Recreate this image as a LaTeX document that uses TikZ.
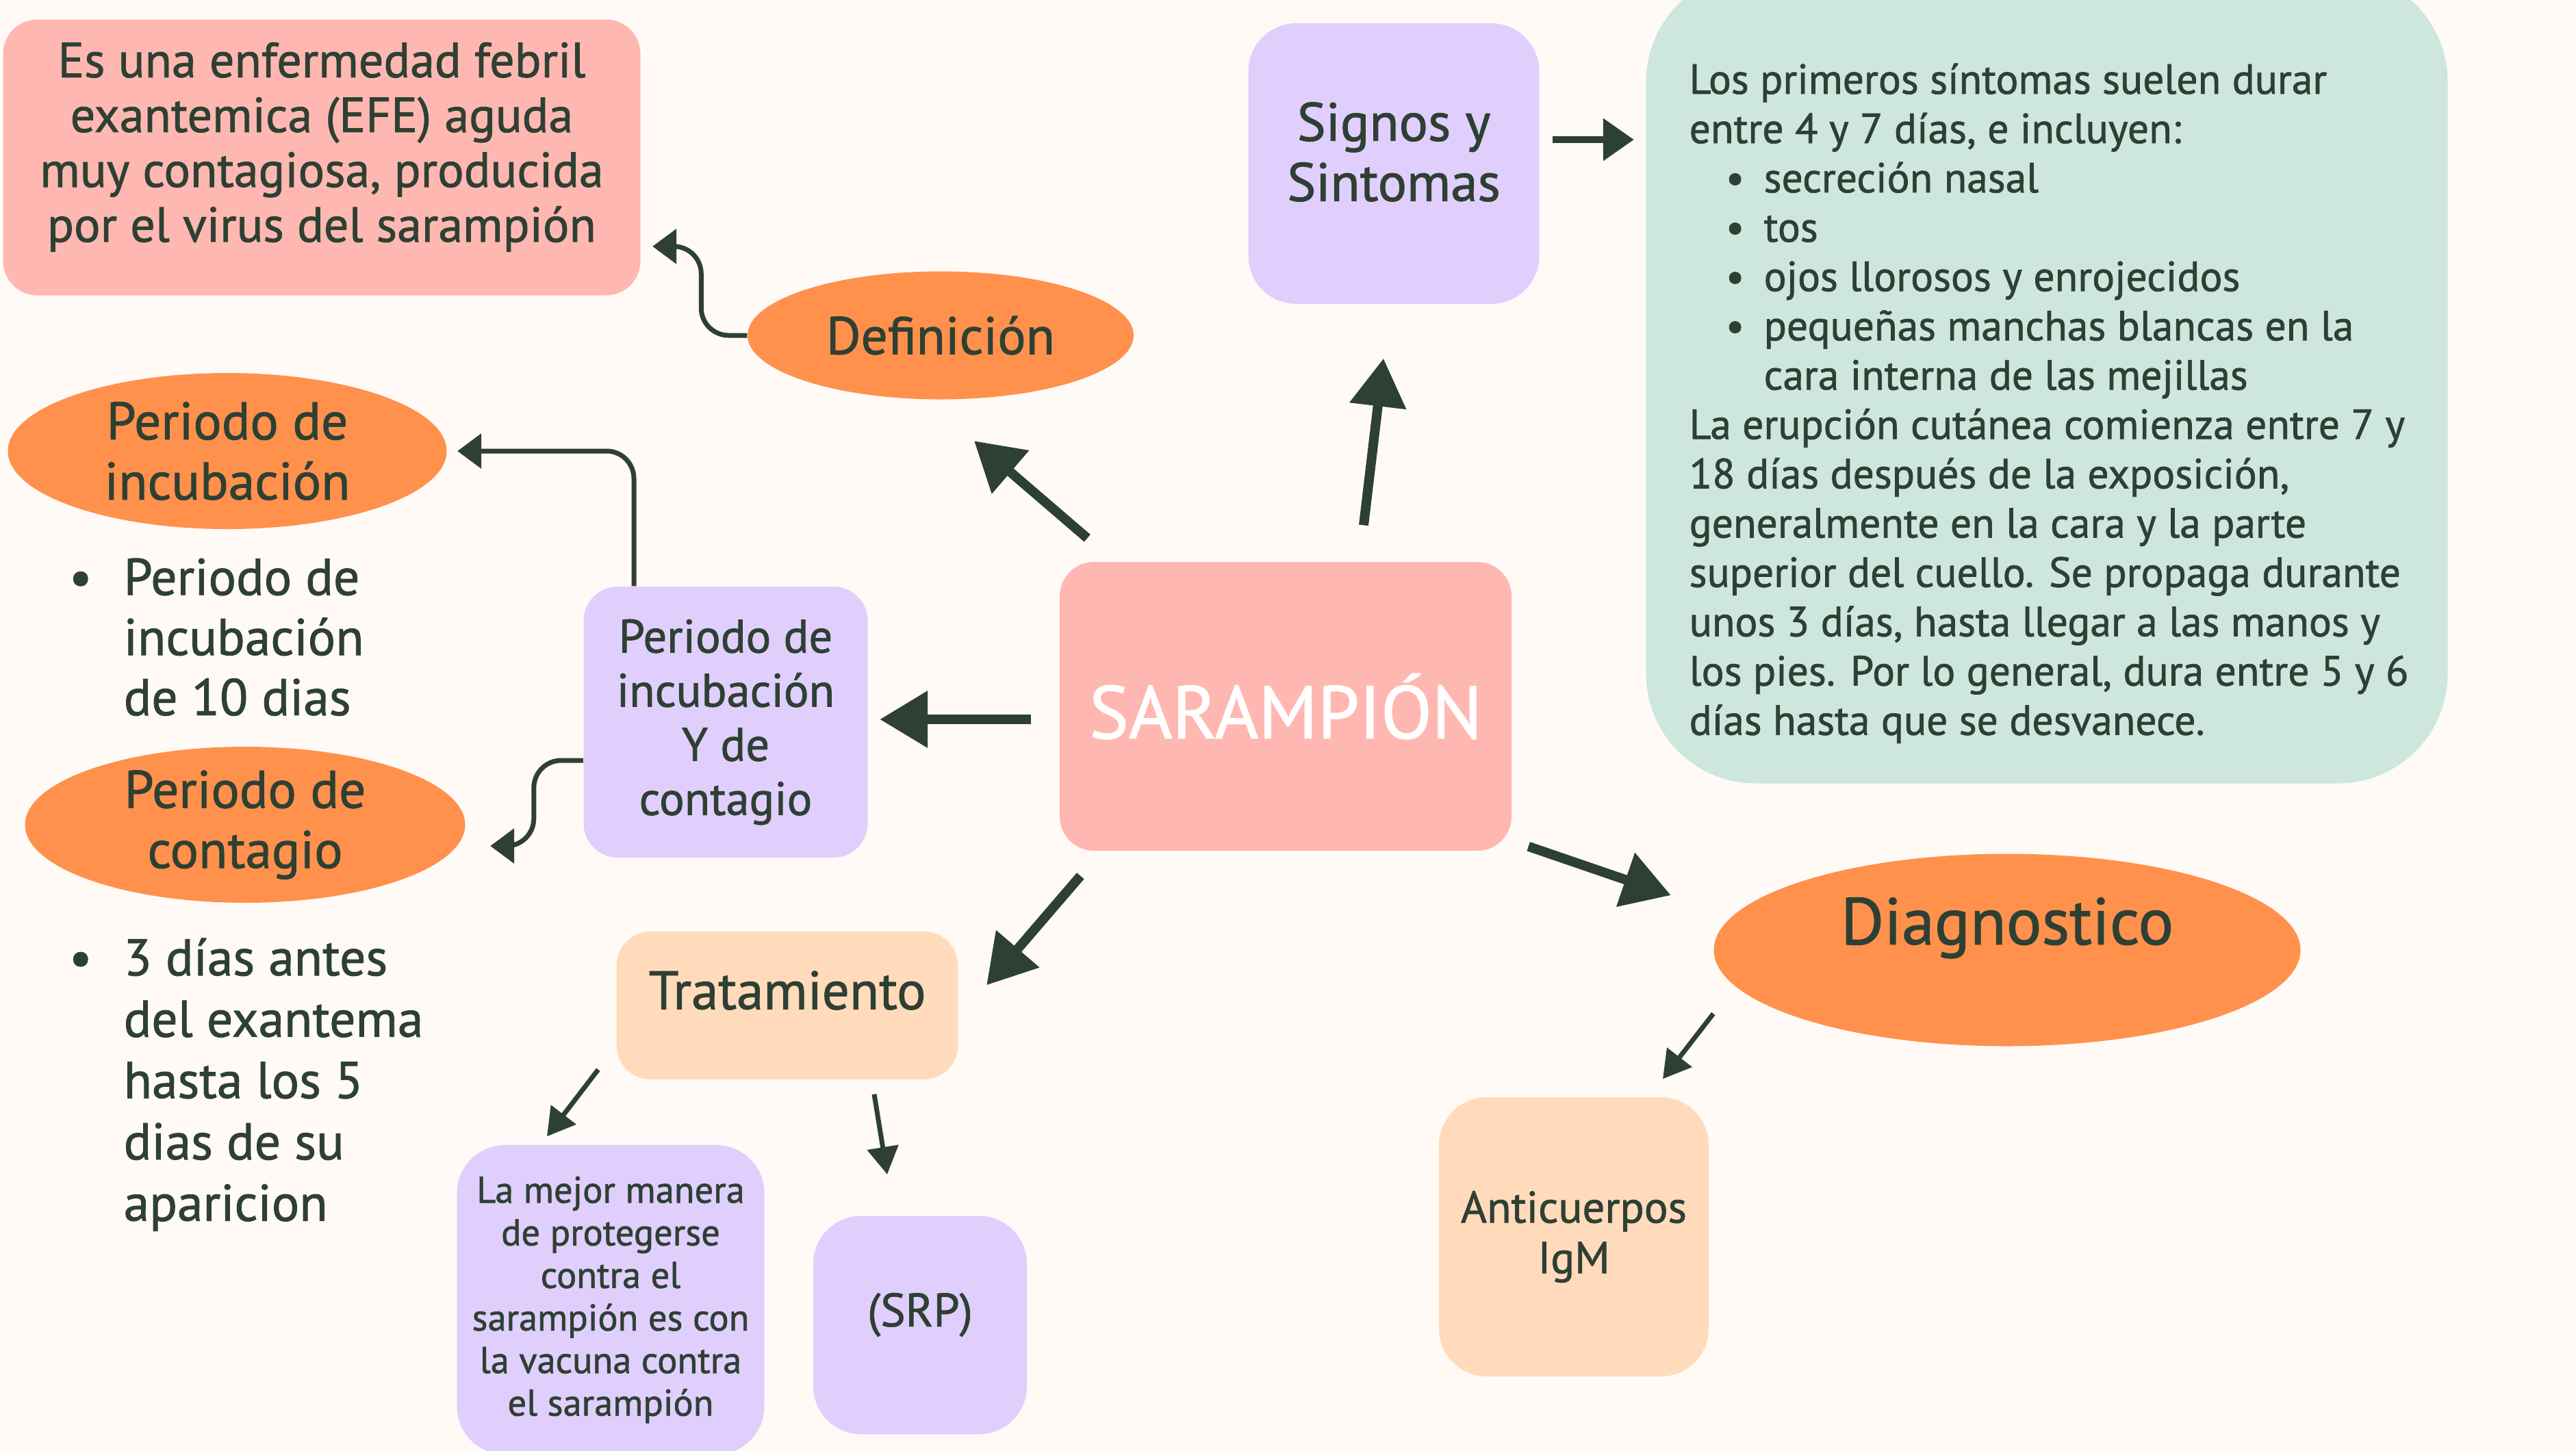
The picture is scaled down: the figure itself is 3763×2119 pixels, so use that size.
\documentclass[tikz,border=0pt]{standalone}
\usepackage{fontspec}
\setmainfont{PT Sans}[FakeBold=1.2]
\usetikzlibrary{positioning}
\usetikzlibrary{shapes.geometric}
\usetikzlibrary{arrows.meta}
\usepackage{xcolor}

\definecolor{bgcream}{HTML}{FFFAF6}
\definecolor{inkgreen}{HTML}{2E4033}
\definecolor{pinkbox}{HTML}{FFB8B1}
\definecolor{orangeblob}{HTML}{FF914D}
\definecolor{lilacbox}{HTML}{E0CFFD}
\definecolor{peachbox}{HTML}{FFDBBC}
\definecolor{mintbox}{HTML}{CDE7DF}

\begin{document}
\begin{tikzpicture}[x=0.1mm, y=-0.1mm,
		% Style definitions for the concept map
		card/.style={rounded corners=5mm, align=center, text=inkgreen, inner sep=0pt},
		blob/.style={ellipse, fill=orangeblob, align=center, text=inkgreen, inner sep=0pt},
		plain/.style={align=left, text=inkgreen, inner sep=0pt},
		bigarrow/.style={-{Triangle[length=7mm, width=8mm]}, line width=1.4mm, inkgreen},
		midarrow/.style={-{Triangle[length=4.5mm, width=6mm]}, line width=1mm, inkgreen},
		thinarrow/.style={-{Triangle[length=4mm, width=4.5mm]}, line width=0.7mm, inkgreen},
		elbow/.style={-{Triangle[length=3.5mm, width=5mm]}, line width=0.7mm, inkgreen, rounded corners=4mm},
		]
		% === Canvas ===
		\fill[bgcream] (0,0) rectangle (3763,2119);
		\useasboundingbox (0,0) rectangle (3763,2119);

		% === Centre ===
		\node[card, fill=pinkbox, minimum width=66mm, minimum height=42.2mm, text=white,
			font=\fontsize{31}{34}\selectfont] (saramp) at (1878,1032) {SARAMPIÓN};

		% === Definition branch ===
		\node[blob, minimum width=56.4mm, minimum height=18.7mm,
			font=\fontsize{22}{24}\selectfont] (defin) at (1374,490) {Definición};
		\node[card, fill=pinkbox, minimum width=93.1mm, minimum height=40.3mm, text depth=4.5mm,
			font=\fontsize{20.5}{22.8}\selectfont] (defbox) at (470,230) {%
			Es una enfermedad febril\\exantemica (EFE) aguda\\muy contagiosa, producida\\por el virus del sarampión};

		% === Signs and symptoms branch ===
		\node[card, fill=lilacbox, rounded corners=7mm, minimum width=42.5mm, minimum height=41mm, text depth=3.5mm,
			font=\fontsize{22.5}{25}\selectfont] (signos) at (2036,239) {Signos y\\Sintomas};
		\node[card, fill=mintbox, rounded corners=16mm, minimum width=117.1mm, minimum height=118.5mm] (sintbox) at (2990,552) {};
		\node[plain, anchor=north west, font=\fontsize{17.5}{20.5}\selectfont] (sintext) at (2467,92) {%
			Los primeros síntomas suelen durar\\
			entre 4 y 7 días, e incluyen:\\
			\hspace*{5.3mm}\makebox[5.6mm][l]{\textbullet}secreción nasal\\
			\hspace*{5.3mm}\makebox[5.6mm][l]{\textbullet}tos\\
			\hspace*{5.3mm}\makebox[5.6mm][l]{\textbullet}ojos llorosos y enrojecidos\\
			\hspace*{5.3mm}\makebox[5.6mm][l]{\textbullet}pequeñas manchas blancas en la\\
			\hspace*{10.9mm}cara interna de las mejillas\\
			La erupción cutánea comienza entre 7 y\\
			18 días después de la exposición,\\
			generalmente en la cara y la parte\\
			superior del cuello. Se propaga durante\\
			unos 3 días, hasta llegar a las manos y\\
			los pies. Por lo general, dura entre 5 y 6\\
			días hasta que se desvanece.};

		% === Incubation / contagion branch ===
		\node[card, fill=lilacbox, minimum width=41.5mm, minimum height=39.6mm,
			font=\fontsize{19.5}{22.5}\selectfont] (perbox) at (1060,1055) {Periodo de\\incubación\\Y de\\contagio};
		\node[blob, minimum width=64.1mm, minimum height=22.8mm,
			font=\fontsize{22}{25}\selectfont] (incub) at (332,659) {Periodo de\\incubación};
		\node[blob, minimum width=64.3mm, minimum height=22.8mm,
			font=\fontsize{22}{25}\selectfont] (contag) at (358,1205) {Periodo de\\contagio};
		\node[plain, anchor=north west, font=\fontsize{21.5}{25}\selectfont] (incubtxt) at (100,815) {%
			\makebox[8mm][l]{\textbullet}Periodo de\\\hspace*{8mm}incubación\\\hspace*{8mm}de 10 dias};
		\node[plain, anchor=north west, font=\fontsize{21.5}{25.5}\selectfont] (contagtxt) at (100,1370) {%
			\makebox[8mm][l]{\textbullet}3 días antes\\\hspace*{8mm}del exantema\\\hspace*{8mm}hasta los 5\\\hspace*{8mm}dias de su\\\hspace*{8mm}aparicion};

		% === Treatment branch ===
		\node[card, fill=peachbox, minimum width=49.9mm, minimum height=21.6mm, text depth=4.5mm,
			font=\fontsize{22.5}{25}\selectfont] (tratam) at (1150,1469) {Tratamiento};
		\node[card, fill=lilacbox, rounded corners=7mm, minimum width=44.9mm, minimum height=45.2mm,
			font=\fontsize{15.5}{17.7}\selectfont] (mejor) at (892,1899) {%
			La mejor manera\\de protegerse\\contra el\\sarampión es con\\la vacuna contra\\el sarampión};
		\node[card, fill=lilacbox, rounded corners=7mm, minimum width=31.2mm, minimum height=31.9mm, text depth=4.5mm,
			font=\fontsize{19.5}{22}\selectfont] (srp) at (1344,1936) {(SRP)};

		% === Diagnosis branch ===
		\node[blob, minimum width=85.7mm, minimum height=28.1mm, text depth=8.5mm,
			font=\fontsize{27.5}{30}\selectfont] (diagn) at (2932,1388) {Diagnostico};
		\node[card, fill=peachbox, rounded corners=7mm, minimum width=39.4mm, minimum height=40.8mm,
			font=\fontsize{18.5}{21}\selectfont] (antic) at (2299,1807) {Anticuerpos\\IgM};

		% === Arrows from the centre ===
		\draw[bigarrow] ([xshift=11.4mm, yshift=5.3mm]saramp.north) -- ([xshift=-1.5mm, yshift=-7.9mm]signos.south);
		\draw[bigarrow] ([xshift=4.1mm, yshift=3.4mm]saramp.north west) -- ([xshift=4.9mm, yshift=-6mm]defin.south);
		\draw[bigarrow] ([xshift=-4.1mm, yshift=-1.9mm]saramp.west) -- ([xshift=1.7mm, yshift=-1.9mm]saramp.west -| perbox.east);
		\draw[bigarrow] ([xshift=3.1mm, yshift=-3.6mm]saramp.south west) -- ([xshift=4.1mm, yshift=-7.9mm]tratam.north east);
		\draw[bigarrow] ([xshift=2.4mm, yshift=0.7mm]saramp.south east) -- ([xshift=-6.2mm, yshift=8mm]diagn.west);

		% === Secondary arrows ===
		\draw[midarrow] ([xshift=1.9mm, yshift=3.5mm]signos.east) -- ([xshift=-1.7mm, yshift=3.5mm]signos.east -| sintbox.west);
		\draw[elbow] (defin.west) -- ++(-67,0) |- ([xshift=1.7mm, yshift=-13mm]defbox.east);
		\draw[elbow] ([xshift=-13.4mm]perbox.north) |- ([xshift=1.5mm]incub.east);
		\draw[elbow] ([yshift=-5.6mm]perbox.west) -- ++(-72,0) |- ([xshift=3.6mm, yshift=-3.1mm]contag.east);
		\draw[thinarrow] ([xshift=-2.6mm, yshift=1.5mm]tratam.south west) -- ([xshift=-9.3mm, yshift=1.2mm]mejor.north);
		\draw[thinarrow] ([xshift=12.7mm, yshift=-2.1mm]tratam.south) -- ([xshift=-4.8mm, yshift=6mm]srp.north);
		\draw[thinarrow] ([yshift=-9.3mm]diagn.west) -- ([xshift=13mm, yshift=2.6mm]antic.north);

	\end{tikzpicture}
\end{document}
